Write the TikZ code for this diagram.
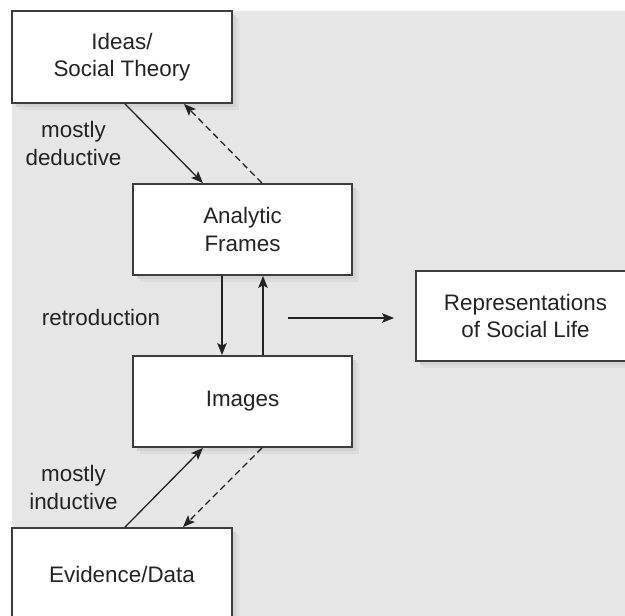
\documentclass[tikz,border=0pt]{standalone}
\usepackage{fontspec}
\setmainfont{Liberation Sans}
\usetikzlibrary{arrows.meta,calc}
\definecolor{bggray}{RGB}{230,230,230}
\definecolor{shadeA}{RGB}{220,220,220}
\definecolor{shadeB}{RGB}{210,210,210}
\definecolor{edgegray}{RGB}{60,60,60}
\definecolor{inkgray}{RGB}{35,35,35}
\tikzset{
  stagebox/.style={draw=edgegray, line width=1.8pt, fill=white, align=center,
    minimum width=219pt, minimum height=91pt, inner sep=0pt,
    font=\fontsize{22.4}{27.5}\selectfont, text=inkgray},
  boxshade/.style={fill=shadeA, draw=none},
  boxshadeinner/.style={fill=shadeB, draw=none},
  flow/.style={draw=inkgray, line width=1.3pt,
    -{Stealth[length=12pt,width=9.5pt,inset=2.5pt]}},
  backflow/.style={flow, dash pattern=on 6.5pt off 4pt},
  note/.style={align=center, font=\fontsize{22.4}{28}\selectfont, text=inkgray}
}
\begin{document}
\begin{tikzpicture}[x=1pt,y=-1pt]
  \useasboundingbox (0,0) rectangle (625,616);
  \fill[bggray] (12,11) rectangle (625,616);

  % soft shadows behind the boxes
  \foreach \l/\t/\r/\b in {12/11/232/103, 133/184/352/275, 133/356/352/447,
                          12/528/232/620, 416/271/636/361}{
    \fill[boxshade] (\l+7,\t+7) rectangle (\r+7,\b+7);
    \fill[boxshadeinner] (\l+4,\t+4) rectangle (\r+4,\b+4);
  }

  % the five stages
  \node[stagebox, minimum width=220pt, minimum height=92pt] (ideas) at (122,57)
    {Ideas/\\Social Theory};
  \node[stagebox] (frames) at (242.5,229.5) {Analytic\\Frames};
  \node[stagebox] (images) at (242.5,401.5) {Images};
  \node[stagebox, minimum width=220pt, minimum height=92pt] (evidence) at (122,574)
    {Evidence/Data};
  \node[stagebox, minimum height=90pt] (reps) at (525.5,316)
    {Representations\\of Social Life};

  % side labels
  \node[note] (deduct) at (73.5,143) {mostly\\deductive};
  \node[note] (retro) at (101,317) {retroduction};
  \node[note] (induct) at (73.5,487) {mostly\\inductive};

  % theory <-> frames
  \draw[flow] ([xshift=3pt]ideas.south) -- ([xshift=-39.5pt]frames.north);
  \draw[backflow] ([xshift=19.5pt]frames.north) -- ([xshift=62pt]ideas.south);

  % frames <-> images
  \draw[flow] ([xshift=-20.5pt]frames.south) -- ([xshift=-20.5pt]images.north);
  \draw[flow] ([xshift=20.5pt]images.north) -- ([xshift=20.5pt]frames.south);

  % evidence <-> images
  \draw[flow] ([xshift=3pt]evidence.north) -- ([xshift=-39.5pt]images.south);
  \draw[backflow] ([xshift=19.5pt]images.south) -- ([xshift=61pt]evidence.north);

  % output towards representations
  \coordinate (outstart) at (288,318);
  \coordinate (outend) at ([xshift=-21pt,yshift=-2pt]reps.west);
  \draw[flow] (outstart) -- (outend);
\end{tikzpicture}
\end{document}
